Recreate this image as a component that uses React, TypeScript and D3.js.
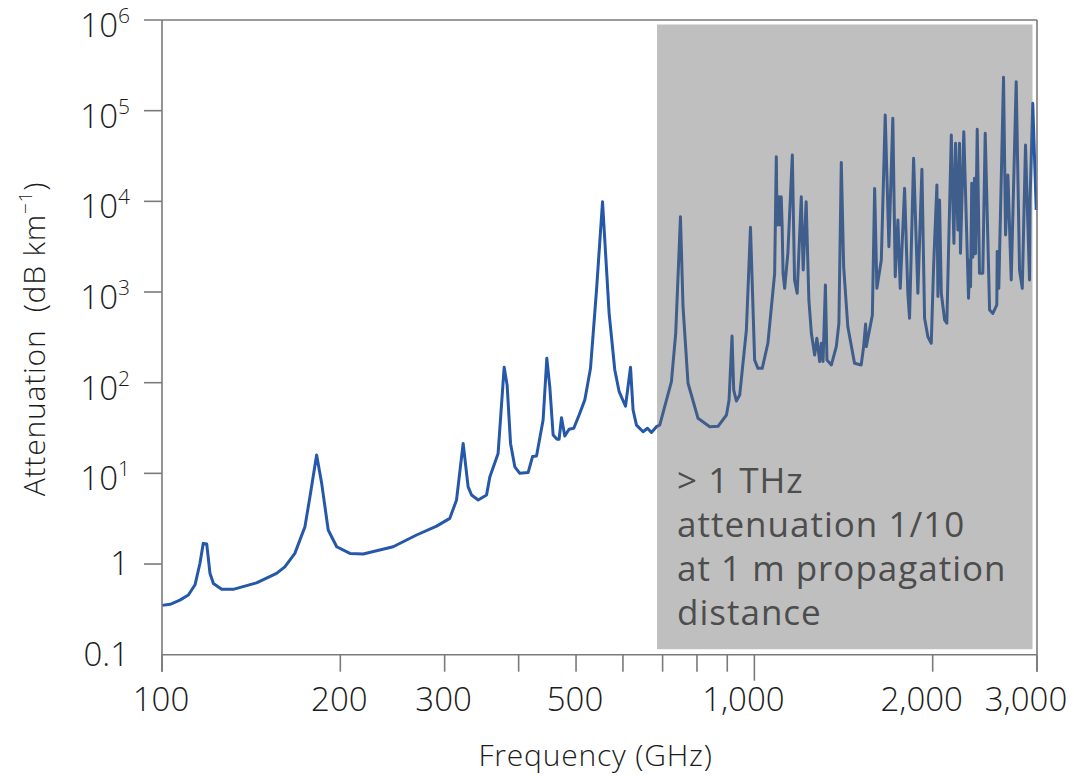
import React from "react";
import * as d3 from "d3";

// frequency (GHz) and attenuation (dB/km)
const freqGHz = [
  100, 103.2, 107.2, 110.8, 113.7, 115.9, 117.4, 119, 120.5, 122.1, 126.1, 131.9,
  144.4, 156.1, 161.2, 167.6, 174.3, 177.7, 182.4, 186, 190.8, 197.2, 207.6, 218.6,
  245.6, 269, 290.8, 306.1, 314.2, 322.4, 328.7, 333.1, 341.8, 353.1, 357.7, 369.3,
  378.1, 382.5, 387.6, 394.1, 401.8, 415, 422.2, 428.8, 439.9, 446.3, 451.5, 457.4,
  464.5, 468.1, 472.5, 478.6, 486.6, 495.6, 506, 517.3, 528.9, 541.4, 554.2, 568.6,
  581.3, 591.2, 606, 617.9, 624.1, 632.4, 648.9, 660, 670.3, 683.4, 692.2, 724.4,
  736.6, 750.3, 757.8, 772.7, 803.3, 840.8, 868.3, 897.2, 906.3, 916.8, 922.9, 932.5,
  944.6, 969.4, 985, 1001, 1014, 1031, 1054, 1082, 1089, 1092, 1100, 1102,
  1110, 1114, 1118, 1125, 1139, 1159, 1169, 1181, 1200, 1209, 1223, 1236,
  1248, 1264, 1275, 1289, 1297, 1306, 1318, 1326, 1349, 1375, 1389, 1402,
  1415, 1438, 1476, 1515, 1529, 1541, 1545, 1582, 1596, 1610, 1638, 1663,
  1687, 1713, 1729, 1747, 1763, 1793, 1816, 1828, 1857, 1888, 1918, 1938,
  1963, 1989, 2007, 2033, 2041, 2054, 2068, 2095, 2113, 2150, 2172, 2186,
  2206, 2220, 2228, 2257, 2299, 2308, 2317, 2328, 2338, 2353, 2362, 2378,
  2399, 2430, 2453, 2488, 2495, 2527, 2566, 2570, 2586, 2634, 2655, 2679,
  2714, 2767, 2803, 2833, 2869, 2914, 2920, 2951, 2991,
];

const attenuation = [
  0.35, 0.36, 0.4, 0.455, 0.59, 1.02, 1.69, 1.66, 0.79, 0.61, 0.526, 0.526,
  0.62, 0.79, 0.93, 1.31, 2.58, 5.5, 15.9, 7.8, 2.37, 1.55, 1.31, 1.29,
  1.55, 2.09, 2.62, 3.19, 5.08, 21.4, 7.1, 5.77, 5.08, 5.77, 9.2, 16.6,
  148, 94, 21.4, 11.8, 10, 10.2, 15.3, 15.5, 38.8, 186, 90, 26.5,
  23.8, 23.8, 41, 25.8, 30.6, 31.4, 44, 64.6, 144, 1052, 9900, 582,
  138, 79.6, 55, 148, 50, 34, 28.8, 31.4, 28.2, 32.7, 34, 102.5,
  351, 6770, 689, 98.5, 40.5, 32.7, 33, 44, 64.5, 327, 83, 62.8,
  73, 380, 5175, 178, 144, 144, 272, 1607, 31100, 5480, 11250, 5480,
  11250, 5300, 1607, 1097, 2670, 32400, 1356, 968, 11250, 1750, 9900, 817,
  351, 202, 309, 171, 272, 171, 1195, 178, 157, 250, 452, 26900,
  1900, 414, 164, 157, 250, 443, 250, 558, 13900, 1097, 2250, 89500,
  3160, 82400, 1475, 6220, 1097, 13900, 968, 513, 29800, 968, 22560, 513,
  321, 272, 1900, 15140, 890, 10350, 968, 491, 452, 54000, 3440, 43650,
  4830, 43650, 2670, 58600, 853, 2250, 1145, 15850, 2420, 17950, 2640, 62400,
  1607, 1607, 56200, 1356, 634, 582, 720, 2790, 1097, 233000, 4250, 19500,
  1356, 209000, 1750, 1097, 41900, 1356, 10350, 120500, 8040,
];

const xTickValues = [100, 200, 300, 400, 500, 600, 700, 800, 900, 1000, 2000, 3000];
const xTickLabels = [100, 200, 300, 500, 1000, 2000, 3000];
const yTickValues = [0.1, 1, 10, 100, 1000, 10000, 100000, 1000000];

const shadeFromGHz = 685;
const noteLines = ["> 1 THz", "attenuation 1/10", "at 1 m propagation", "distance"];

const FONT = "'Open Sans', 'Noto Sans', sans-serif";

export default function App() {
  const width = 1074;
  const height = 776;
  const margin = { top: 20, right: 37, bottom: 121.3, left: 162 };
  const x0 = margin.left;
  const x1 = width - margin.right;
  const y0 = height - margin.bottom;
  const y1 = margin.top;

  const x = d3.scaleLog().domain([100, 3000]).range([x0, x1]);
  const y = d3.scaleLog().domain([0.1, 1e6]).range([y0, y1]);

  const data = freqGHz.map((f, i) => ({ f, a: attenuation[i] }));
  const line = d3
    .line<{ f: number; a: number }>()
    .x((d) => x(d.f))
    .y((d) => y(d.a));

  const axisColor = "#7a7a7a";
  const textColor = "#1c1c1c";
  const inset = 4.5;

  return (
    <svg
      width={width}
      height={height}
      style={{ position: "absolute", left: 0, top: 0, background: "white" }}
      fontFamily={FONT}
      fontWeight={300}
    >
      <path d={line(data) || ""} fill="none" stroke="#2558a8" strokeWidth={3} strokeLinejoin="round" />

      {/* shaded region above ~0.7 THz */}
      <rect
        x={x(shadeFromGHz)}
        y={y1 + inset}
        width={x1 - inset - x(shadeFromGHz)}
        height={y0 - y1 - 2 * inset - 1}
        fill="#676767"
        fillOpacity={0.42}
      />
      {noteLines.map((t, i) => (
        <text
          key={t}
          x={x(shadeFromGHz) + 20}
          y={492.7 + i * 44.2}
          fontSize={35}
          fontWeight={400}
          letterSpacing={1}
          fill="#4d4d4d"
        >
          {t}
        </text>
      ))}

      {/* frame */}
      <g stroke={axisColor} strokeWidth={1.6} fill="none">
        <line x1={x0} x2={x0} y1={y1} y2={y0 + 17} />
        <line x1={x0} x2={x1} y1={y0} y2={y0} />
        <line x1={x0 - 18} x2={x1} y1={y1} y2={y1} />
        <line x1={x1} x2={x1} y1={y1} y2={y0 + 17} />
        {yTickValues
          .filter((v) => v > 0.1 && v < 1e6)
          .map((v) => (
            <line key={v} x1={x0 - 18} x2={x0} y1={y(v)} y2={y(v)} />
          ))}
        {xTickValues.map((v) => (
          <line key={v} x1={x(v)} x2={x(v)} y1={y0} y2={y0 + (v === 1000 ? 26 : 17)} />
        ))}
      </g>

      {/* y tick labels */}
      {yTickValues.map((v) => {
        const p = Math.round(Math.log10(v));
        if (v <= 1) {
          return (
            <text key={v} x={129} y={y(v) + 11} textAnchor="end" fontSize={33} fill={textColor}>
              {v === 1 ? "1" : "0.1"}
            </text>
          );
        }
        return (
          <text key={v} x={130} y={y(v) + 17} textAnchor="end" fontSize={33} fill={textColor}>
            10
            <tspan fontSize={21} dy={-14}>
              {p}
            </tspan>
          </text>
        );
      })}

      {/* x tick labels */}
      {xTickLabels.map((v) => (
        <text
          key={v}
          x={x(v) + (v >= 1000 ? -11 : -1)}
          y={711}
          textAnchor="middle"
          fontSize={33}
          fill={textColor}
        >
          {d3.format(",")(v)}
        </text>
      ))}

      {/* axis titles */}
      <text
        x={(x0 + x1) / 2 - 4}
        y={766}
        textAnchor="middle"
        fontSize={30}
        letterSpacing={0.8}
        fill={textColor}
      >
        Frequency (GHz)
      </text>
      <text
        transform={`translate(45,${339}) rotate(-90)`}
        textAnchor="middle"
        fontSize={30}
        letterSpacing={0.8}
        fill={textColor}
      >
        Attenuation{"\u00a0\u00a0"}(dB km
        <tspan fontSize={19} dy={-13}>
          −1
        </tspan>
        <tspan dy={13}>)</tspan>
      </text>
    </svg>
  );
}
